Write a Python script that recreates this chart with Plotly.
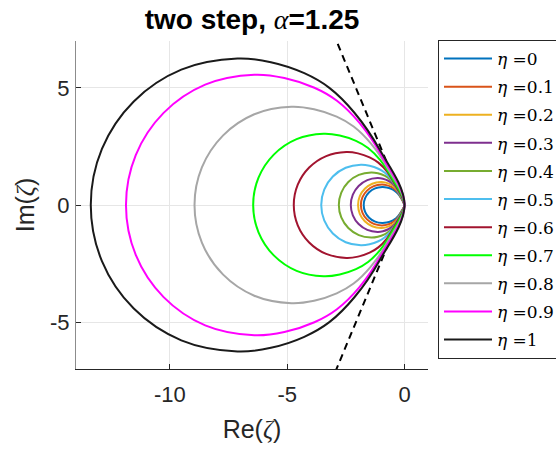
import plotly.graph_objects as go
import math

# ---- data (upper half of each boundary curve; lower half is its mirror) ----
eta_labels = ["0", "0.1", "0.2", "0.3", "0.4", "0.5", "0.6", "0.7", "0.8", "0.9", "1"]
colors = ["#0072BD", "#D95319", "#EDB120", "#7E2F8E", "#77AC30", "#4DBEEE",
          "#A2142F", "#00FF00", "#A6A6A6", "#FF00FF", "#1A1A1A"]
alpha = 1.25

x_eta00 = [-1.74, -1.68, -1.509, -1.253, -0.95, -0.76, -0.57, -0.4275, -0.285, -0.1425, 0.0]
y_eta00 = [0.0, 0.295, 0.544, 0.711, 0.77, 0.751, 0.693, 0.616, 0.485, 0.29, 0.0]
x_eta01 = [-1.86, -1.792, -1.599, -1.311, -0.97, -0.776, -0.582, -0.4365, -0.291, -0.1455, 0.0]
y_eta01 = [0.0, 0.333, 0.615, 0.804, 0.87, 0.848, 0.783, 0.696, 0.548, 0.31, 0.0]
x_eta02 = [-1.98, -1.906, -1.693, -1.375, -1.0, -0.8, -0.6, -0.45, -0.3, -0.15, 0.0]
y_eta02 = [0.0, 0.375, 0.693, 0.906, 0.98, 0.956, 0.882, 0.784, 0.617, 0.32, 0.0]
x_eta03 = [-2.29, -2.203, -1.956, -1.587, -1.15, -0.92, -0.69, -0.5175, -0.345, -0.1725, 0.0]
y_eta03 = [0.0, 0.44, 0.813, 1.063, 1.15, 1.121, 1.035, 0.92, 0.725, 0.37, 0.0]
x_eta04 = [-2.80, -2.695, -2.396, -1.949, -1.42, -1.136, -0.852, -0.639, -0.426, -0.213, 0.0]
y_eta04 = [0.0, 0.532, 0.983, 1.284, 1.39, 1.355, 1.251, 1.112, 0.876, 0.46, 0.0]
x_eta05 = [-3.55, -3.422, -3.055, -2.507, -1.86, -1.488, -1.116, -0.837, -0.558, -0.279, 0.0]
y_eta05 = [0.0, 0.659, 1.216, 1.589, 1.72, 1.677, 1.548, 1.376, 1.084, 0.60, 0.0]
x_eta06 = [-4.72, -4.55, -4.064, -3.338, -2.48, -1.984, -1.488, -1.116, -0.744, -0.372, 0.0]
y_eta06 = [0.0, 0.866, 1.598, 2.088, 2.26, 2.204, 2.034, 1.808, 1.424, 0.80, 0.0]
x_eta07 = [-6.45, -6.222, -5.571, -4.599, -3.45, -2.76, -2.07, -1.5525, -1.035, -0.5175, 0.0]
y_eta07 = [0.0, 1.164, 2.149, 2.809, 3.04, 2.964, 2.736, 2.432, 1.915, 1.12, 0.0]
x_eta08 = [-8.95, -8.636, -7.74, -6.402, -4.82, -3.856, -2.892, -2.169, -1.446, -0.723, 0.0]
y_eta08 = [0.0, 1.605, 2.962, 3.872, 4.19, 4.085, 3.771, 3.352, 2.64, 1.58, 0.0]
x_eta09 = [-11.87, -11.454, -10.267, -8.495, -6.4, -5.12, -3.84, -2.88, -1.92, -0.96, 0.0]
y_eta09 = [0.0, 2.129, 3.931, 5.137, 5.56, 5.421, 5.004, 4.448, 3.503, 2.08, 0.0]
x_eta10 = [-13.37, -12.895, -11.539, -9.514, -7.12, -5.696, -4.272, -3.204, -2.136, -1.068, 0.0]
y_eta10 = [0.0, 2.394, 4.419, 5.775, 6.25, 6.094, 5.625, 5.0, 3.938, 2.375, 0.0]

curves_x = [x_eta00, x_eta01, x_eta02, x_eta03, x_eta04, x_eta05,
            x_eta06, x_eta07, x_eta08, x_eta09, x_eta10]
curves_y = [y_eta00, y_eta01, y_eta02, y_eta03, y_eta04, y_eta05,
            y_eta06, y_eta07, y_eta08, y_eta09, y_eta10]

fig = go.Figure()

# sector boundary lines at angle alpha*pi/2
theta = alpha * math.pi / 2
R = 10
fig.add_trace(go.Scatter(
    x=[R * math.cos(theta), 0, R * math.cos(theta)],
    y=[R * math.sin(theta), 0, -R * math.sin(theta)],
    mode="lines", line=dict(color="black", width=2, dash="7px,5px"),
    showlegend=False, hoverinfo="skip"))

for lab, col, xs, ys in zip(eta_labels, colors, curves_x, curves_y):
    # closed path: origin -> upper half -> leftmost -> lower half -> origin
    up_x = list(reversed(xs))
    up_y = list(reversed(ys))
    lo_x = xs[1:]
    lo_y = [-v for v in ys[1:]]
    fig.add_trace(go.Scatter(
        x=up_x + lo_x, y=up_y + lo_y, mode="lines",
        line=dict(color=col, width=2, shape="spline", smoothing=1.0),
        name="<i>η</i> =" + lab, legendgroup=lab))

SERIF = "font-family:Liberation Serif,serif"
axis_font = dict(family="Liberation Sans, Arial, sans-serif", size=22, color="#262626")
common = dict(showgrid=True, gridcolor="#e6e6e6", gridwidth=1, zeroline=False,
              showline=True, ticks="inside", ticklen=5, tickcolor="#262626",
              tickfont=axis_font, mirror=False)

fig.update_layout(
    width=556, height=449,
    margin=dict(l=76, r=128, t=41, b=80, pad=0, autoexpand=False),
    paper_bgcolor="white", plot_bgcolor="white",
    title=dict(
        text=f"<b>two step, </b><span style=\"{SERIF}\"><i>α</i></span><b>=1.25</b>",
        x=0.5, xref="paper", xanchor="center", y=1 - 19 / 449, yref="container", yanchor="middle",
        font=dict(family="Liberation Sans, Arial, sans-serif", size=28, color="black")),
    xaxis=dict(range=[-14, 1], tickvals=[-10, -5, 0], ticktext=["-10", "-5", "0"],
               linecolor="#262626", linewidth=1, ticklabelstandoff=6,
               title=dict(text=f"Re(<span style=\"{SERIF}\"><i>ζ</i></span>)",
                          font=dict(family="Liberation Sans, Arial, sans-serif", size=25, color="#262626"),
                          standoff=14),
               **common),
    yaxis=dict(range=[-7, 7], tickvals=[-5, 0, 5], ticktext=["-5", "0", "5"],
               linecolor="#8c8c8c", linewidth=1, ticklabelstandoff=1,
               title=dict(text=f"Im(<span style=\"{SERIF}\"><i>ζ</i></span>)",
                          font=dict(family="Liberation Sans, Arial, sans-serif", size=25, color="#262626"),
                          standoff=8),
               **common),
    legend=dict(x=(438 - 76) / 352, xanchor="left", y=1.003, yanchor="top",
                bgcolor="white", bordercolor="#262626", borderwidth=1, maxheight=420,
                font=dict(family="DejaVu Serif, serif", size=17, color="black"),
                traceorder="grouped", tracegroupgap=3, itemwidth=48),
    showlegend=True,
)

fig.write_html("out.html", config={"displayModeBar": False},
               post_script="document.body.style.margin='0';")
